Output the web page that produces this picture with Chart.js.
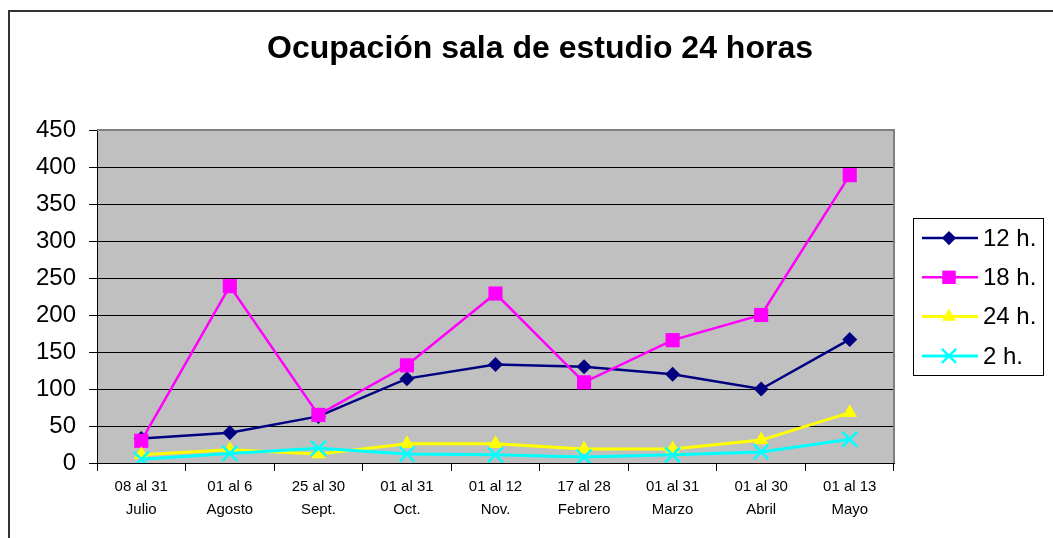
<!DOCTYPE html>
<html>
<head>
<meta charset="utf-8">
<script src="https://cdn.jsdelivr.net/npm/chart.js@4.4.1/dist/chart.umd.min.js"></script>
<style>
html,body{margin:0;padding:0;background:#fff;overflow:hidden}
#wrap{width:1053px;height:538px;position:relative}
</style>
</head>
<body>
<div id="wrap"><canvas id="chart" width="1053" height="538"></canvas></div>
<script>
const FONT = '"Liberation Sans", Arial, sans-serif';
const titleText = 'Ocupación sala de estudio 24 horas';
const categories = [['08 al 31','Julio'],['01 al 6','Agosto'],['25 al 30','Sept.'],['01 al 31','Oct.'],['01 al 12','Nov.'],['17 al 28','Febrero'],['01 al 31','Marzo'],['01 al 30','Abril'],['01 al 13','Mayo']];
const h12 = [33, 41, 63, 114, 133, 130, 120, 100, 167];
const h18 = [30, 239, 65, 132, 229, 109, 166, 200, 389];
const h24 = [11, 18, 12, 26, 26, 19, 19, 31, 68];
const h2  = [5, 13, 20, 12, 11, 8, 11, 15, 32];
const seriesNames = ['12 h.','18 h.','24 h.','2 h.'];
const yTicks = [0,50,100,150,200,250,300,350,400,450];

function ds(label, data, color, style, r, lw, order){
  return {label, data, borderColor:color, backgroundColor:color, borderWidth:lw,
    pointStyle:style, pointRadius:r, pointHoverRadius:r, pointBorderWidth: style==='crossRot'?2.5:0,
    pointBorderColor:color, pointBackgroundColor:color, tension:0, order};
}

// marker for the legend, same shapes as chart.js point styles
function marker(ctx, style, x, y, r, color){
  ctx.save();
  ctx.fillStyle = color; ctx.strokeStyle = color;
  ctx.beginPath();
  if(style==='rectRot'){ ctx.moveTo(x,y-r); ctx.lineTo(x+r,y); ctx.lineTo(x,y+r); ctx.lineTo(x-r,y); ctx.closePath(); ctx.fill(); }
  else if(style==='rect'){ const s=r*Math.SQRT1_2; ctx.rect(x-s,y-s,2*s,2*s); ctx.fill(); }
  else if(style==='triangle'){ ctx.moveTo(x,y-r); ctx.lineTo(x+r*0.866,y+r*0.5); ctx.lineTo(x-r*0.866,y+r*0.5); ctx.closePath(); ctx.fill(); }
  else { const s=r*Math.SQRT1_2; ctx.lineWidth=2.5; ctx.moveTo(x-s,y-s); ctx.lineTo(x+s,y+s); ctx.moveTo(x+s,y-s); ctx.lineTo(x-s,y+s); ctx.stroke(); }
  ctx.restore();
}

const decor = {
  id:'decor',
  beforeDraw(chart){
    const {ctx, chartArea:a} = chart;
    ctx.save();
    ctx.fillStyle='#fff'; ctx.fillRect(0,0,chart.width,chart.height);
    ctx.strokeStyle='#333'; ctx.lineWidth=2; ctx.strokeRect(9,11,1200,700);
    ctx.fillStyle='#c0c0c0'; ctx.fillRect(a.left,a.top,a.width,a.height);
    ctx.restore();
  },
  beforeDatasetsDraw(chart){
    const {ctx, chartArea:a} = chart;
    ctx.save();
    ctx.strokeStyle='#808080'; ctx.lineWidth=2;
    ctx.beginPath(); ctx.moveTo(a.left,a.top); ctx.lineTo(a.right,a.top); ctx.lineTo(a.right,a.bottom); ctx.stroke();
    ctx.restore();
  },
  afterDraw(chart){
    const ctx = chart.ctx;
    ctx.save();
    ctx.fillStyle='#000'; ctx.font='bold 32px '+FONT; ctx.textAlign='center'; ctx.textBaseline='middle';
    ctx.fillText(titleText, 540, 49);
    // legend box
    ctx.strokeStyle='#000'; ctx.lineWidth=1; ctx.strokeRect(913.5,218.5,130,157);
    ctx.font='24px '+FONT; ctx.textAlign='left';
    chart.data.datasets.forEach((d,i)=>{
      const y = 238 + i*39.3;
      ctx.strokeStyle=d.borderColor; ctx.lineWidth=d.borderWidth;
      ctx.beginPath(); ctx.moveTo(922,y); ctx.lineTo(978,y); ctx.stroke();
      marker(ctx, d.pointStyle, 949, y, d.pointRadius*0.95, d.borderColor);
      ctx.fillStyle='#000'; ctx.fillText(d.label, 983, y+1);
    });
    ctx.restore();
  }
};

new Chart(document.getElementById('chart'), {
  type:'line',
  data:{labels:categories, datasets:[
    ds(seriesNames[0], h12, '#000080', 'rectRot', 7.5, 2.5, 4),
    ds(seriesNames[1], h18, '#ff00ff', 'rect', 10, 2.5, 3),
    ds(seriesNames[2], h24, '#ffff00', 'triangle', 8.5, 3, 2),
    ds(seriesNames[3], h2,  '#00ffff', 'crossRot', 10.5, 3, 1)
  ]},
  options:{
    responsive:false, animation:false,
    layout:{padding:{left:0, right:159, top:130, bottom:0}},
    plugins:{legend:{display:false}, title:{display:false}, tooltip:{enabled:false}},
    scales:{
      x:{offset:true,
        grid:{offset:true, drawOnChartArea:false, tickLength:8, color:'#000', lineWidth:1},
        border:{color:'#000', width:1},
        ticks:{color:'#000', font:{family:FONT, size:15, lineHeight:1.53}, padding:4, maxRotation:0, autoSkip:false},
        afterFit(s){ s.height = 75; }
      },
      y:{min:0, max:450,
        afterBuildTicks(s){ s.ticks = yTicks.map(v=>({value:v})); },
        grid:{color:'#000', lineWidth:1, tickLength:8},
        border:{color:'#000', width:1},
        ticks:{color:'#000', font:{family:FONT, size:24}, padding:13},
        afterFit(s){ s.width = 97; }
      }
    }
  },
  plugins:[decor]
});
</script>
</body>
</html>
